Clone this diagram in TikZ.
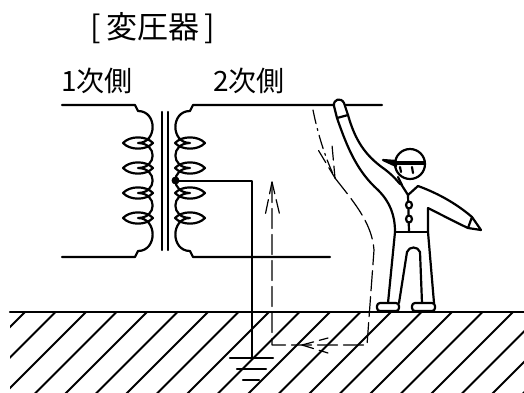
\documentclass[tikz,border=0pt]{standalone}
\usepackage{fontspec}
\newfontfamily\jpfont{Noto Sans CJK JP}
\begin{document}
\begin{tikzpicture}[x=1pt,y=-1pt,line join=round,line cap=round]
    \tikzset{
      wire/.style={line width=2.2pt},
      hatch/.style={line width=2pt},
      curr/.style={line width=1.2pt,dash pattern=on 20pt off 6pt},
      currdot/.style={line width=1.2pt,dash pattern=on 14pt off 5pt on 2pt off 5pt},
      barb/.style={line width=1.2pt,dash pattern=on 12pt off 6pt on 14pt off 40pt},
      lbl/.style={font=\jpfont\fontsize{28}{30}\selectfont,inner sep=0pt}
    }
    \useasboundingbox (0,0) rectangle (524,392);
    % labels
    \node[lbl,font=\jpfont\fontsize{31}{32}\selectfont] (title) at (153,28) {[\,変圧器\,]};
    \node[lbl] (prim) at (97,81) {1次側};
    \node[lbl] (sec) at (249,81) {2次側};
    % earth and hatching
    \begin{scope}
      \clip (10,312) rectangle (524,392);
      \foreach \k in {0,...,19}
        \draw[hatch] ({25+30.5*\k},312) -- ++(-90,90);
    \end{scope}
    \draw[wire] (10,312) -- (524,312);
    % primary winding
    \draw[wire] (62,105) -- (135,105) -- (138,111)
      .. controls (157.5,111) and (157.5,143) .. (138,143)
      .. controls (157.5,143) and (157.5,168) .. (138,168)
      .. controls (157.5,168) and (157.5,193) .. (138,193)
      .. controls (157.5,193) and (157.5,218) .. (138,218)
      .. controls (157.5,218) and (157.5,251) .. (138,251)
      -- (135,257) -- (62,257);
    \foreach \y in {143,168,193,218}
      \draw[wire] (123,\y) .. controls (130,\y-7.5) and (146,\y-7.5) .. (153,\y)
        .. controls (146,\y+7.5) and (130,\y+7.5) .. cycle;
    % core
    \draw[wire] (162,112) -- (162,250);
    \draw[wire] (168,112) -- (168,250);
    % secondary winding
    \draw[wire] (382,105) -- (193,105) -- (190,111)
      .. controls (170.5,111) and (170.5,143) .. (190,143)
      .. controls (170.5,143) and (170.5,168) .. (190,168)
      .. controls (170.5,168) and (170.5,193) .. (190,193)
      .. controls (170.5,193) and (170.5,218) .. (190,218)
      .. controls (170.5,218) and (170.5,251) .. (190,251)
      -- (193,257) -- (330,257);
    \foreach \y in {143,168,193,218}
      \draw[wire] (175,\y) .. controls (182,\y-7.5) and (198,\y-7.5) .. (205,\y)
        .. controls (198,\y+7.5) and (182,\y+7.5) .. cycle;
    % earthed tap
    \fill (175.5,180.5) circle (4pt);
    \draw[wire] (176,181) -- (252,181) -- (252,358);
    \draw[wire] (230,358) -- (273,358);
    \draw[wire] (237,369) -- (266,369);
    \draw[wire] (243,380) -- (259,380);
    % current path
    \draw[currdot] (313,110) .. controls (318,135) and (326,160) .. (335,178);
    \draw[curr] (335,178) .. controls (352,200) and (372,222) .. (374,250)
      -- (367,345) -- (272,345) -- (272,182);
    \draw[barb] (272,182) -- ++(-7,34);
    \draw[barb] (272,182) -- ++(8,34);
    \draw[barb] (335,178) -- ++(-18,-30);
    \draw[barb] (335,178) -- ++(-3,-33);
    \draw[barb] (302,345) -- ++(26,-7);
    \draw[barb] (302,345) -- ++(26,8);
    % worker: raised arm and hand on the line
    \filldraw[wire,fill=white] (337,118) -- (334,106) .. controls (333,99) and (341,97) .. (344,103) -- (348,115) -- cycle;
    \draw[wire] (337,118) .. controls (348,150) and (358,172) .. (378,190)
      .. controls (390,202) and (395,215) .. (395,232);
    \draw[wire] (348,115) .. controls (355,140) and (365,155) .. (383,168)
      .. controls (390,173) and (395,178) .. (400,184);
    % head and cap
    \draw[wire] (410,164) circle (15pt);
    \draw[line width=3.4pt] (395,163) -- (424,163);
    \filldraw[wire] (396,161) -- (383,160) -- (396,166) -- cycle;
    \draw[wire] (400,167) -- (401,172);
    \draw[wire] (412,167) -- (413,173);
    \draw[wire] (398,177) -- (402,185);
    % collar, buttons
    \draw[wire] (401,184) -- (408,195) -- (418,186);
    \draw[wire] (408,195) -- (409,232);
    \filldraw[wire,fill=white] (409,205) ellipse (3pt and 3.5pt);
    \filldraw[wire,fill=white] (409,219) ellipse (3pt and 3.5pt);
    % other arm
    \draw[wire] (418,186) .. controls (440,194) and (458,205) .. (472,217)
      -- (481,230) -- (468,228) -- (472,217);
    \draw[wire] (468,228) .. controls (455,222) and (440,214) .. (428,208) -- (428,232);
    % waist and legs
    \draw[wire] (395,232) -- (428,232);
    \draw[wire] (395,232) -- (388,303);
    \draw[wire] (399,303) -- (407,252) .. controls (409,246) and (418,246) .. (420,252) -- (422,303);
    \draw[wire] (428,232) -- (434,303);
    \draw[wire,rounded corners=3pt] (399,303) -- (399,311) -- (377,311) -- (377,303) -- cycle;
    \draw[wire,rounded corners=3pt] (412,303) -- (412,311) -- (435,311) -- (435,303) -- cycle;
\end{tikzpicture}
\end{document}
